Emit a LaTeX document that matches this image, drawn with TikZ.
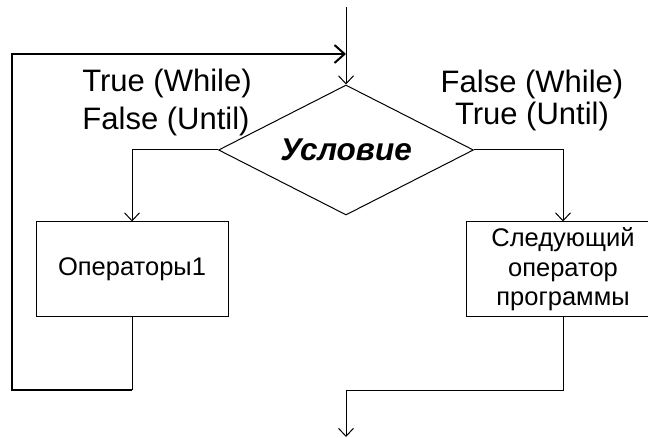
\documentclass[tikz,border=0pt]{standalone}
\usepackage{fontspec}
\setmainfont{Liberation Sans}
\usetikzlibrary{shapes.geometric,arrows.meta}
\begin{document}
\begin{tikzpicture}[x=1pt,y=-1pt,
  flow/.style={line width=1pt, -{Straight Barb[length=8pt,width=15pt]}},
  plain/.style={line width=1pt},
  loopline/.style={line width=2pt},
  looparrow/.style={line width=2pt, -{Straight Barb[length=10pt,width=18pt]}},
  box/.style={draw, line width=1pt, minimum height=95pt, inner sep=0pt,
    align=center, font=\fontsize{25.5}{29.5}\selectfont},
  decision/.style={draw, diamond, line width=1pt, inner sep=0pt, aspect=2,
    minimum width=255pt, minimum height=130pt,
    font=\fontsize{31.5}{36}\selectfont\bfseries\itshape},
  lbl/.style={anchor=base, inner sep=0pt, font=\fontsize{31}{36}\selectfont}]
\clip (0,0) rectangle (648,438);
% decision and the two branches
\node[decision] (cond) at (346,150) {Условие};
\node[box, minimum width=192pt] (op1) at (132,269.5) {Операторы1};
\node[box, minimum width=194pt] (next) at (563,269.5) {Следующий\\оператор\\программы};
% branch labels
\node[lbl] (tw) at (167,92) {True (While)};
\node[lbl] (fu) at (166,130) {False (Until)};
\node[lbl] (fw) at (532,93) {False (While)};
\node[lbl] (tu) at (532,125) {True (Until)};
% connector end points
\coordinate (entry) at (346,7);
\coordinate (join) at (346,54);
\coordinate (exit) at (346,437);
% entry into the condition
\draw[flow] (entry) -- (cond.north);
% branches
\draw[flow] (cond.west) -| (op1.north);
\draw[flow] (cond.east) -| (next.north);
% loop back from the body to the condition
\draw[plain] (op1.south) -- (op1.south |- 0,390);
\draw[looparrow] (op1.south |- 0,390) -- (12,390) -- (12,54) -- (join);
% leaving the loop
\draw[flow] (next.south) |- (346,390) -- (exit);
\end{tikzpicture}
\end{document}
